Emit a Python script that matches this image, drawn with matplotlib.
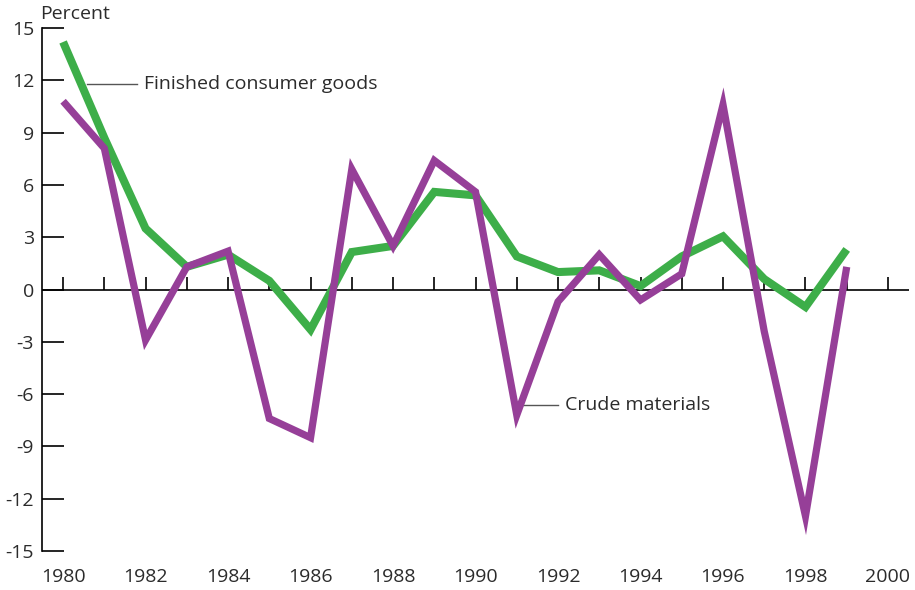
import matplotlib
matplotlib.use("Agg")
import matplotlib.pyplot as plt
import numpy as np

years = list(range(1980, 2000))
finished_consumer_goods = [14.2, 8.7, 3.5, 1.3, 2.0, 0.5, -2.3, 2.15, 2.5, 5.6,
                           5.4, 1.9, 1.0, 1.1, 0.2, 1.9, 3.05, 0.6, -1.0, 2.3]
crude_materials = [10.8, 8.1, -2.9, 1.3, 2.2, -7.4, -8.5, 6.9, 2.5, 7.4,
                   5.6, -7.2, -0.7, 2.0, -0.6, 0.9, 10.6, -2.4, -13.0, 1.3]
ytick_vals = [-15, -12, -9, -6, -3, 0, 3, 6, 9, 12, 15]
xtick_vals = list(range(1980, 2001, 2))
minor_years = list(range(1980, 2001))

GREEN = "#3DAE49"
PURPLE = "#963F98"
TEXT = "#2b2b2b"

plt.rcParams['font.family'] = ['Open Sans', 'DejaVu Sans']
FS = 14

fig = plt.figure(figsize=(9.15, 5.9), dpi=100)
ax = fig.add_axes([0.0464, 0.0661, 0.9466, 0.8864])
ax.set_xlim(1979.5, 2000.5)
ax.set_ylim(-15, 15)

for s in ['top', 'right', 'bottom']:
    ax.spines[s].set_visible(False)
ax.spines['left'].set_linewidth(1.2)
ax.spines['left'].set_color('black')

ax.set_yticks(ytick_vals)
ax.set_yticklabels([str(v) for v in ytick_vals], fontsize=FS, color=TEXT)
ax.tick_params(axis='y', direction='in', length=16, width=1.2, pad=6, color='black')

ax.set_xticks(xtick_vals)
ax.set_xticklabels([str(v) for v in xtick_vals], fontsize=FS, color=TEXT)
ax.tick_params(axis='x', length=0, pad=12)

# zero line with upward ticks
ax.axhline(0, color='black', lw=1.2, zorder=1)
ax.vlines(minor_years, 0, 0.72, color='black', lw=1.2, zorder=1)

ax.plot(years, finished_consumer_goods, color=GREEN, lw=5.8,
        solid_joinstyle='miter', solid_capstyle='butt', zorder=3)
ax.plot(years, crude_materials, color=PURPLE, lw=5.2,
        solid_joinstyle='miter', solid_capstyle='butt', zorder=4)

# labels with leader lines
ax.plot([1980.58, 1981.8], [11.8, 11.8], color='#555555', lw=1.0, zorder=2)
ax.text(1981.97, 11.8, "Finished consumer goods", fontsize=FS, color=TEXT,
        va='center', ha='left')
ax.plot([1991.15, 1992.0], [-6.6, -6.6], color='#555555', lw=1.0, zorder=2)
ax.text(1992.17, -6.6, "Crude materials", fontsize=FS, color=TEXT,
        va='center', ha='left')

fig.text(40/915, 1-14/590, "Percent", fontsize=FS, color=TEXT, va='center', ha='left')

fig.savefig("out.png", dpi=100)
